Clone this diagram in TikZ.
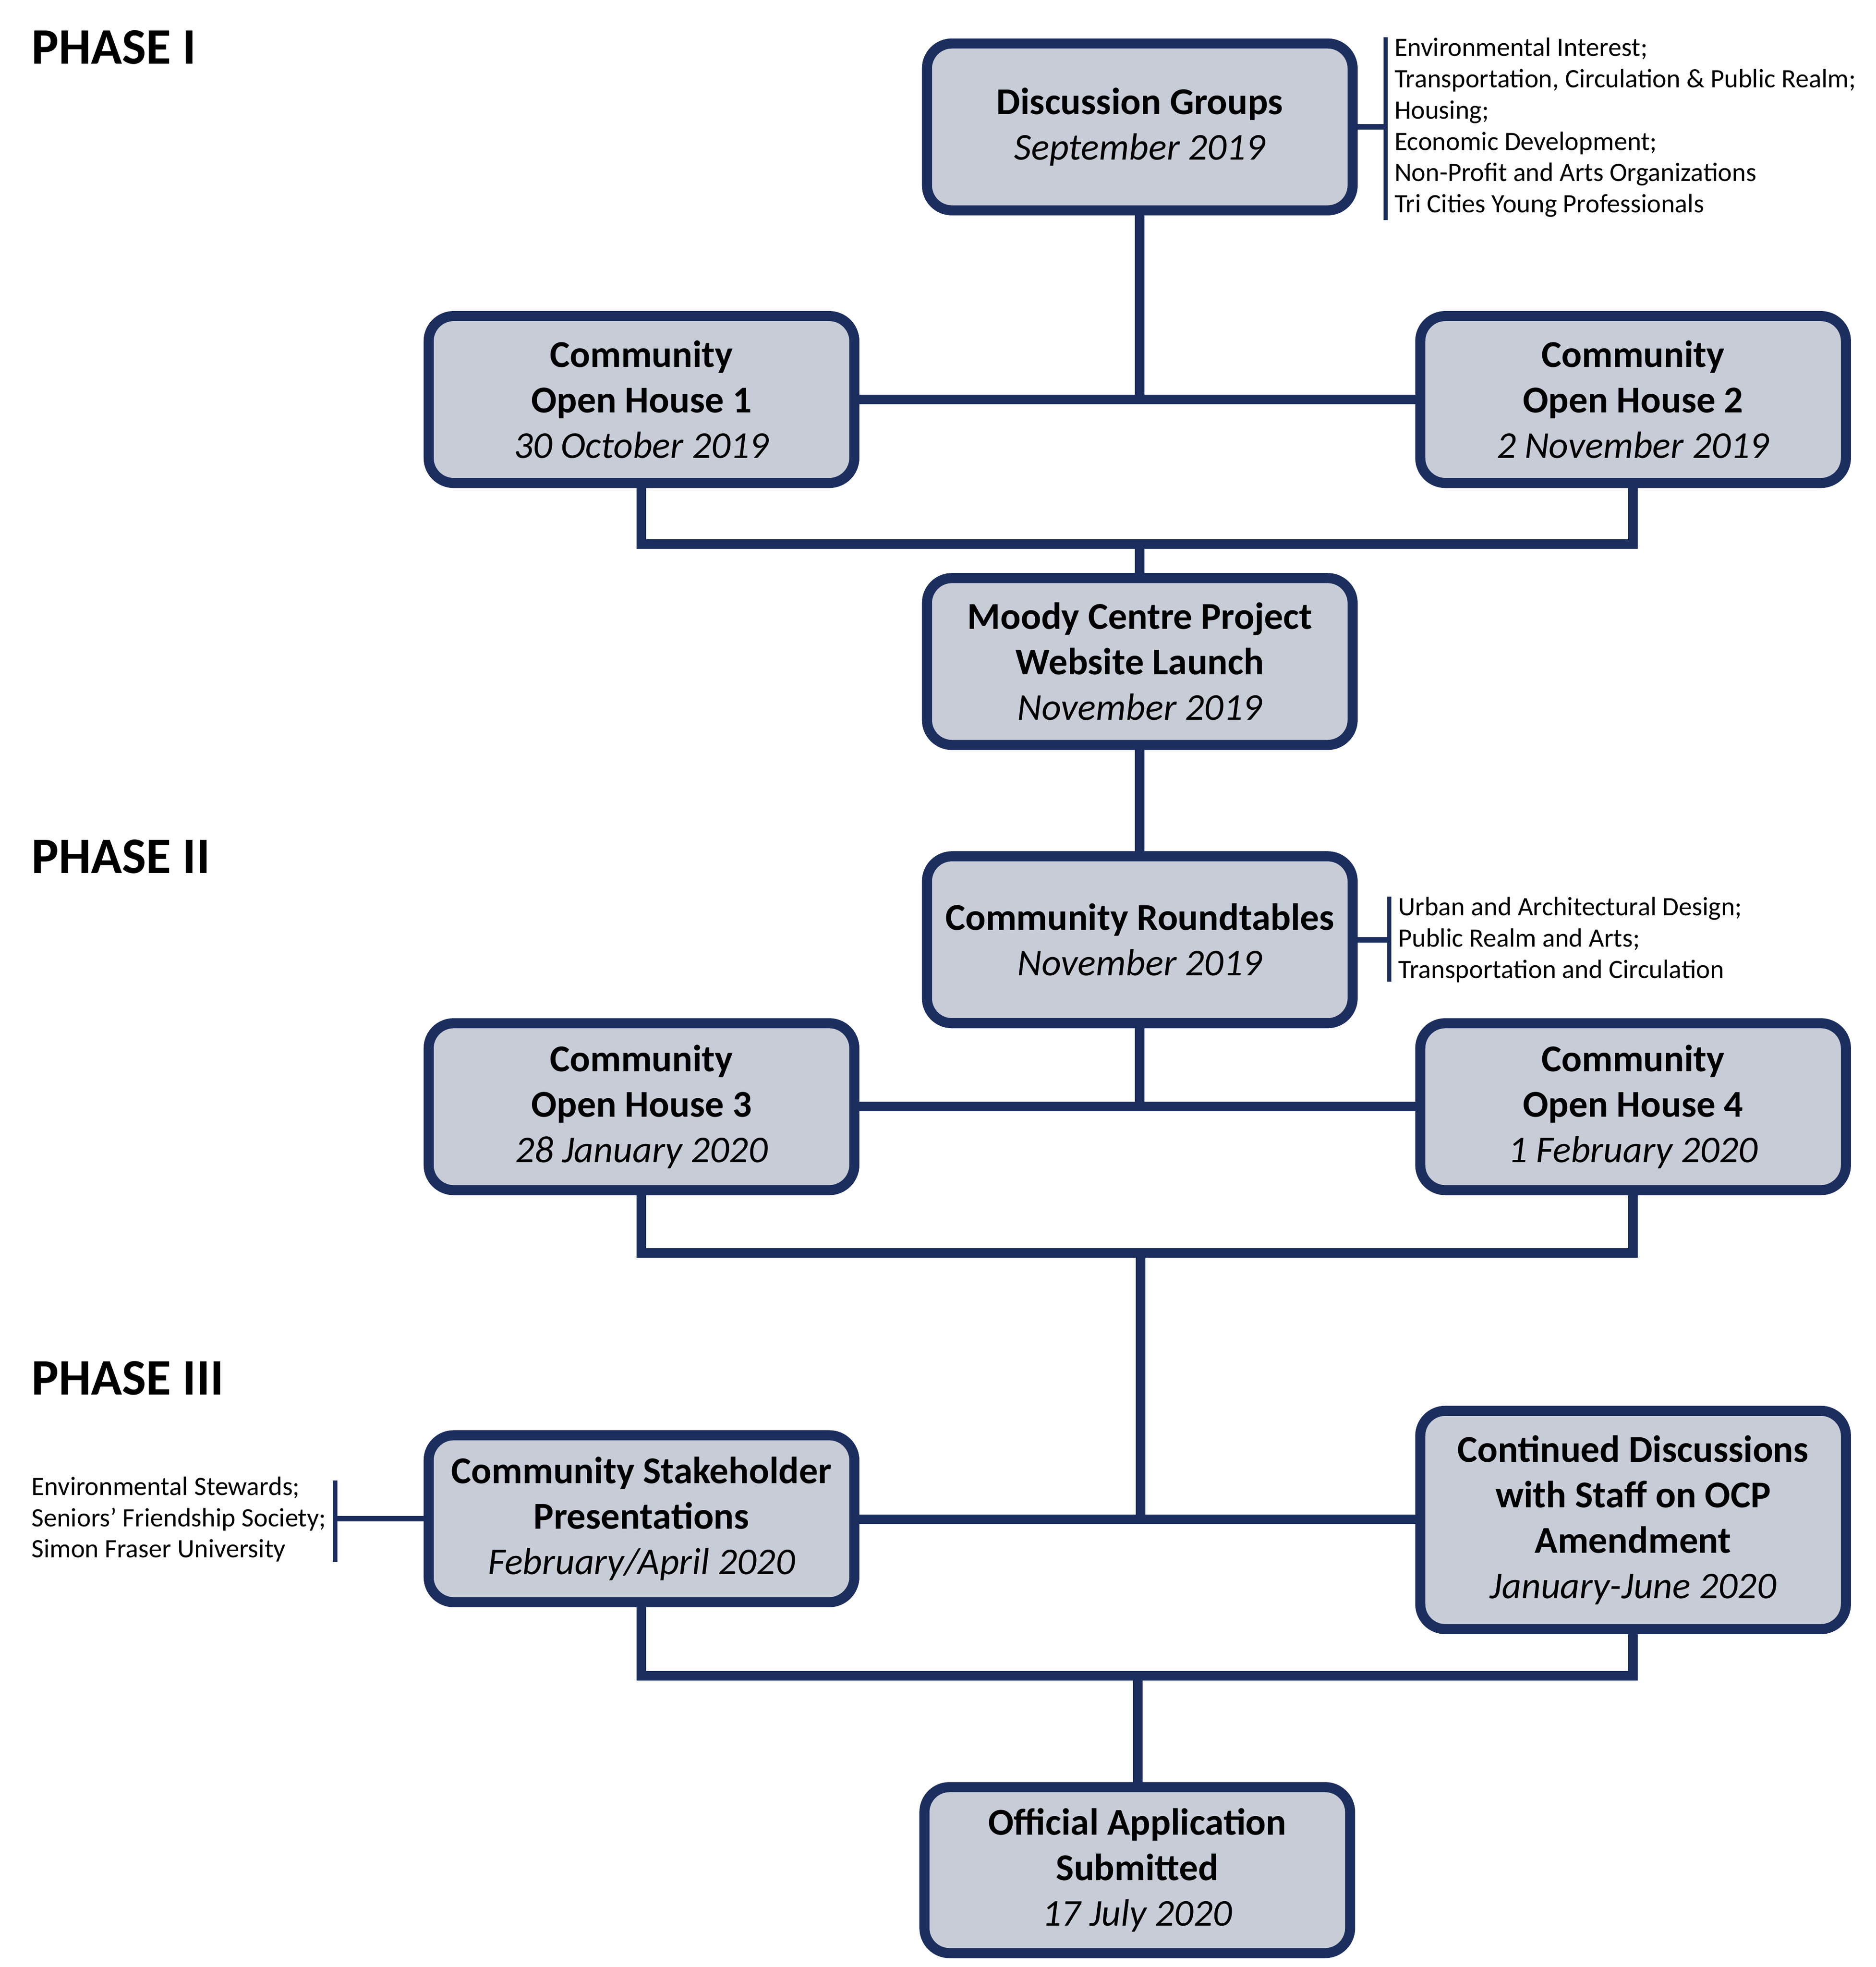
\documentclass[tikz,border=0pt]{standalone}
\usepackage{fontspec}
\setmainfont{Carlito}
\definecolor{navy}{RGB}{27,46,94}
\definecolor{boxfill}{RGB}{200,204,214}
\begin{document}
\begin{tikzpicture}[x=0.0275cm,y=-0.0275cm,
 stage/.style={draw=navy,fill=boxfill,line width=6.3pt,rounded corners=0.55cm,minimum width=9.36cm,minimum height=3.67cm,align=center,inner sep=0pt,font=\fontsize{23.7}{28.5}\selectfont},
 link/.style={draw=navy,line width=6pt},
 stub/.style={draw=navy,line width=3.3pt},
 bar/.style={draw=navy,line width=2.6pt},
 note/.style={anchor=west,align=left,inner sep=0pt,font=\fontsize{16.6}{19.56}\selectfont},
 phase/.style={anchor=west,inner sep=0pt,font=\fontsize{32}{38}\selectfont\bfseries}]
\useasboundingbox (0,0) rectangle (1500,1573);

% phase labels
\node[phase] (p1) at (25,38) {PHASE I};
\node[phase] (p2) at (25,685) {PHASE II};
\node[phase] (p3) at (25,1102) {PHASE III};

% junctions
\coordinate (j1) at (911.5,435);
\coordinate (j2) at (912,1002);
\coordinate (j3) at (910,1340);
\coordinate (dgbt) at (1108,30);
\coordinate (dgbb) at (1108,176);
\coordinate (rtbt) at (1111,717);
\coordinate (rtbb) at (1111,785);
\coordinate (csbt) at (268,1184);
\coordinate (csbb) at (268,1249);

% connectors (drawn below boxes)
\draw[link] (911.5,101.5) -- (911.5,319.5);
\draw[link] (513,319.5) -- (1306,319.5);
\draw[link] (513,319.5) |- (j1) -| (1306,319.5);
\draw[link] (j1) -- (911.5,529);
\draw[link] (911.5,529) -- (911.5,885);
\draw[link] (513,885) -- (1306,885);
\draw[link] (513,885) |- (j2) -| (1306,885);
\draw[link] (j2) -- (912,1215);
\draw[link] (513,1215) -- (1306,1215);
\draw[link] (513,1214.5) |- (j3) -| (1306,1215.5);
\draw[link] (j3) -- (910,1495.5);

% boxes
\node[stage] (dg) at (911.5,101.5) {\textbf{Discussion Groups}\\\textit{September 2019}};
\node[stage] (oh1) at (513,319.5) {\textbf{Community}\\\textbf{Open House 1}\\\textit{30 October 2019}};
\node[stage] (oh2) at (1306,319.5) {\textbf{Community}\\\textbf{Open House 2}\\\textit{2 November 2019}};
\node[stage] (mc) at (911.5,529) {\textbf{Moody Centre Project}\\\textbf{Website Launch}\\\textit{November 2019}};
\node[stage] (rt) at (911.5,751.5) {\textbf{Community Roundtables}\\\textit{November 2019}};
\node[stage] (oh3) at (513,885) {\textbf{Community}\\\textbf{Open House 3}\\\textit{28 January 2020}};
\node[stage] (oh4) at (1306,885) {\textbf{Community}\\\textbf{Open House 4}\\\textit{1 February 2020}};
\node[stage] (cs) at (513,1214.5) {\textbf{Community Stakeholder}\\\textbf{Presentations}\\\textit{February/April 2020}};
\node[stage,minimum height=4.8cm] (cd) at (1306,1215.5) {\textbf{Continued Discussions}\\\textbf{with Staff on OCP}\\\textbf{Amendment}\\\textit{January-June 2020}};
\node[stage,minimum height=3.65cm] (oa) at (909.5,1495.5) {\textbf{Official Application}\\\textbf{Submitted}\\\textit{17 July 2020}};

% side notes
\draw[bar] (dgbt) -- (dgbb);
\draw[stub] (dg.east) -- (dg.east -| dgbt);
\node[note] (dgn) at (1115,102) {Environmental Interest;\\Transportation, Circulation \& Public Realm;\\Housing;\\Economic Development;\\Non-Profit and Arts Organizations\\Tri Cities Young Professionals};

\draw[bar] (rtbt) -- (rtbb);
\draw[stub] (rt.east) -- (rt.east -| rtbt);
\node[note] (rtn) at (1118,751.5) {Urban and Architectural Design;\\Public Realm and Arts;\\Transportation and Circulation};

\draw[bar] (csbt) -- (csbb);
\draw[stub] (cs.west) -- (cs.west -| csbt);
\node[note] (csn) at (25,1215) {Environmental Stewards;\\Seniors’ Friendship Society;\\Simon Fraser University};
\end{tikzpicture}
\end{document}
